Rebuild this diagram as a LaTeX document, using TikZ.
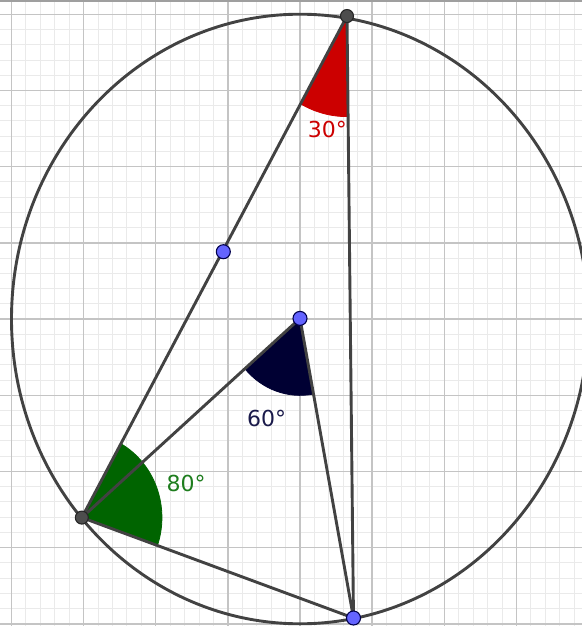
\documentclass[tikz,border=0pt]{standalone}
\usepackage{fontspec}
\setmainfont{DejaVu Sans}
\usetikzlibrary{calc}
\definecolor{majorgrid}{HTML}{C4C4C4}
\definecolor{minorgrid}{HTML}{EAEAEA}
\definecolor{linegray}{HTML}{424242}
\definecolor{redfill}{HTML}{CC0000}
\definecolor{navyfill}{HTML}{000033}
\definecolor{greenfill}{HTML}{006400}
\definecolor{navytext}{HTML}{1A1A4A}
\definecolor{greentext}{HTML}{1E7D1E}
\definecolor{bluept}{HTML}{6464FF}
\definecolor{darkpt}{HTML}{4D4D4D}
\tikzset{
  minorline/.style={minorgrid, line width=0.85pt},
  majorline/.style={majorgrid, line width=1.4pt},
  seg/.style={linegray, line width=2.9pt},
  darkdot/.style={circle, fill=darkpt, draw=black!85, line width=1.1pt, minimum size=13pt, inner sep=0pt},
  bluedot/.style={circle, fill=bluept, draw=black!70!blue, line width=1.1pt, minimum size=14pt, inner sep=0pt},
  anglabel/.style={font=\fontsize{22}{24}\selectfont, inner sep=0pt},
}
\begin{document}
\begin{tikzpicture}[x={(72.14pt,0)}, y={(0,76.2pt)}]
\useasboundingbox (-4.1586,4.1864) rectangle (3.9091,-4.0289);
\begin{scope}
\clip (-4.1586,4.1864) rectangle (3.9091,-4.0289);
\draw[minorline] (-4.4,-4.4) grid[step=0.2] (4.4,4.4);
\draw[majorline] (-4.4,-4.4) grid[step=1] (4.4,4.4);
\draw[seg] (0,0) circle[x radius=288.5pt, y radius=304.8pt];
\fill[gray!75] (-4.1586,4.1864) rectangle (3.9091,4.1614);
\end{scope}
% points
\coordinate (T) at (0.6515,3.976);
\coordinate (L) at (-3.024,-2.606);
\coordinate (B) at (0.7416,-3.924);
\coordinate (O) at (0,0.008);
\coordinate (M) at (-1.063,0.883);
% angle sectors
\filldraw[redfill, line width=0.8pt] (T) -- ++({1.32*cos(240.83)},{1.32*sin(240.83)})
  arc[start angle=240.83, end angle=270.65, x radius=95.2pt, y radius=100.6pt] -- cycle;
\filldraw[navyfill, line width=0.8pt] (O) -- ++({1.01*cos(220.76)},{1.01*sin(220.76)})
  arc[start angle=220.76, end angle=280.70, x radius=72.9pt, y radius=77.0pt] -- cycle;
\filldraw[greenfill, line width=0.8pt] (L) -- ++({1.11*cos(-19.32)},{1.11*sin(-19.32)})
  arc[start angle=-19.32, end angle=60.83, x radius=80.1pt, y radius=84.6pt] -- cycle;
% segments
\draw[seg] (T) -- (L);
\draw[seg] (T) -- (B);
\draw[seg] (L) -- (B);
\draw[seg] (L) -- (O);
\draw[seg] (O) -- (B);
% dots
\node[darkdot] (Tdot) at (T) {};
\node[darkdot] (Ldot) at (L) {};
\node[bluedot] (Bdot) at (B) {};
\node[bluedot] (Odot) at (O) {};
\node[bluedot] (Mdot) at (M) {};
% labels
\node[anglabel, text=redfill] (lab30) at (0.381,2.493) {30°};
\node[anglabel, text=navytext] (lab60) at (-0.462,-1.312) {60°};
\node[anglabel, text=greentext] (lab80) at (-1.580,-2.159) {80°};
\end{tikzpicture}
\end{document}
